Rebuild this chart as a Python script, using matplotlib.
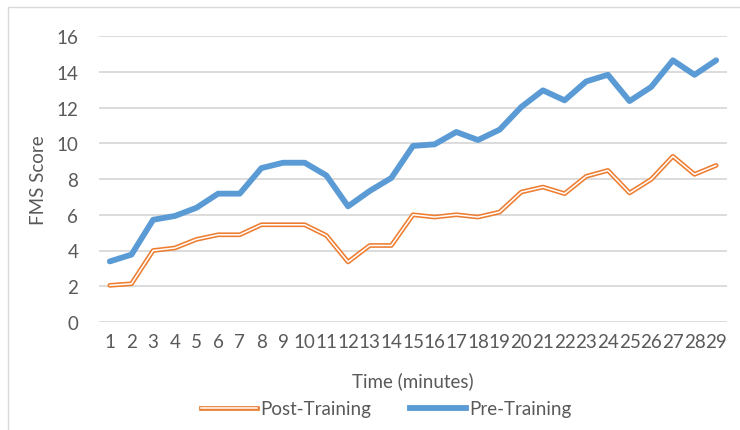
import matplotlib
matplotlib.use("Agg")
import matplotlib.pyplot as plt
from matplotlib.lines import Line2D
from matplotlib.legend_handler import HandlerTuple
from matplotlib.patches import Rectangle

plt.rcParams['font.family'] = ['Lato', 'DejaVu Sans']

minutes = list(range(1, 30))
tick_labels = [str(m) for m in minutes]
pre_training = [3.39, 3.77, 5.72, 5.93, 6.39, 7.18, 7.18, 8.61, 8.91, 8.91,
                8.20, 6.47, 7.33, 8.06, 9.85, 9.94, 10.63, 10.18, 10.76, 12.03,
                12.96, 12.40, 13.46, 13.83, 12.36, 13.15, 14.64, 13.83, 14.64]
post_training = [2.05, 2.14, 4.00, 4.14, 4.62, 4.88, 4.88, 5.44, 5.44, 5.44,
                 4.84, 3.36, 4.28, 4.28, 6.00, 5.87, 6.00, 5.87, 6.15, 7.27,
                 7.55, 7.18, 8.15, 8.48, 7.22, 7.98, 9.27, 8.26, 8.76]
y_ticks = [0, 2, 4, 6, 8, 10, 12, 14, 16]

blue = '#5B9BD5'
orange = '#ED7D31'
gray_text = '#595959'
grid_col = '#D9D9D9'
fs = 13.5

fig = plt.figure(figsize=(7.4, 4.31), dpi=100)
ax = fig.add_axes([99/740, 1-323/431, (727-99)/740, (323-37)/431])

# Border around chart area
fig.patches.append(Rectangle((8/740, -0.05), 1.1, 1 - 8/431 + 0.05,
                             transform=fig.transFigure, fill=False,
                             edgecolor='#D9D9D9', linewidth=1.0))

ax.plot(minutes, pre_training, color=blue, linewidth=4.2,
        solid_capstyle='round', solid_joinstyle='round', zorder=3)
ax.plot(minutes, post_training, color=orange, linewidth=3.4,
        solid_capstyle='round', solid_joinstyle='round', zorder=3)
ax.plot(minutes, post_training, color='white', linewidth=1.1,
        solid_capstyle='round', solid_joinstyle='round', zorder=4)

ax.set_xlim(0.5, 29.5)
ax.set_ylim(0, 16)
ax.set_yticks(y_ticks)
ax.set_xticks(minutes)
ax.set_xticklabels(tick_labels)
ax.yaxis.grid(True, color=grid_col, linewidth=1.3)
ax.set_axisbelow(True)
for s in ax.spines.values():
    s.set_visible(False)
ax.tick_params(axis='both', length=0, labelsize=fs, colors=gray_text)
ax.tick_params(axis='y', pad=15)
ax.tick_params(axis='x', pad=8)
ax.set_xlabel('Time (minutes)', fontsize=fs, color=gray_text, labelpad=15)
ax.set_ylabel('FMS Score', fontsize=fs, color=gray_text, labelpad=7)

h_post = (Line2D([], [], color=orange, linewidth=3.4),
          Line2D([], [], color='white', linewidth=1.1))
h_pre = Line2D([], [], color=blue, linewidth=4.2)
fig.legend([h_post, h_pre], ['Post-Training', 'Pre-Training'],
           handler_map={tuple: HandlerTuple(ndivide=1, pad=0)},
           loc='center', bbox_to_anchor=(386/740, 1 - 410/431), ncol=2,
           frameon=False, fontsize=fs, labelcolor=gray_text,
           handlelength=3.0, handletextpad=0.15, columnspacing=2.1)

fig.savefig('out.png', dpi=100)
